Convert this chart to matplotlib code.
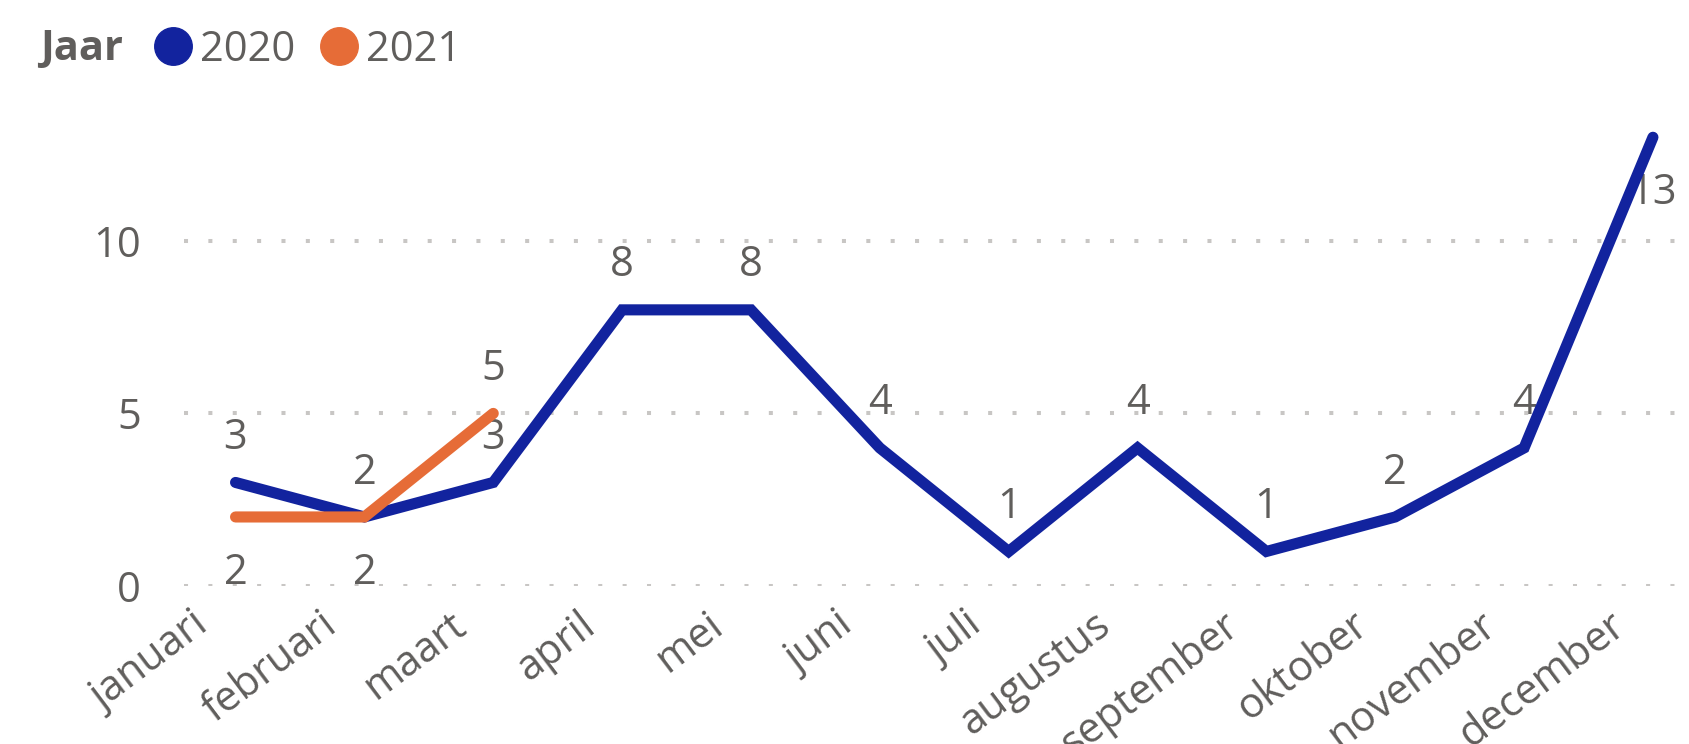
import matplotlib
matplotlib.use("Agg")
import matplotlib.pyplot as plt
from matplotlib.lines import Line2D
from matplotlib.transforms import ScaledTranslation

months = ["januari", "februari", "maart", "april", "mei", "juni", "juli",
          "augustus", "september", "oktober", "november", "december"]
values_2020 = [3, 2, 3, 8, 8, 4, 1, 4, 1, 2, 4, 13]
values_2021 = [2, 2, 5]
series_names = ["2020", "2021"]
yticks = [0, 5, 10]

# label placement (style): 'a' = above, 'b' = below
pos_2020 = ["a", "a", "a", "a", "a", "a", "a", "a", "a", "a", "a", "b"]
pos_2021 = ["b", "b", "a"]

BLUE = "#12239E"
ORANGE = "#E66C37"
GREY = "#605E5C"
FONT = "Open Sans"
FS = 30

plt.rcParams["font.family"] = [FONT, "DejaVu Sans"]

fig = plt.figure(figsize=(16.9, 7.44), dpi=100)
ax = fig.add_axes([184 / 1690, 1 - 586 / 744, (1680 - 184) / 1690, (586 - 120) / 744])

x20 = list(range(len(values_2020)))
x21 = list(range(len(values_2021)))
ax.plot(x20, values_2020, color=BLUE, lw=8, solid_capstyle="round",
        solid_joinstyle="miter", zorder=3)
ax.plot(x21, values_2021, color=ORANGE, lw=8, solid_capstyle="round",
        solid_joinstyle="miter", zorder=4)

ax.set_xlim(-0.40, 11.21)
ax.set_ylim(0, 13.5)

for s in ax.spines.values():
    s.set_visible(False)

ax.set_yticks(yticks)
ax.set_yticklabels([str(v) for v in yticks], fontsize=FS, color=GREY)
ax.tick_params(axis="y", length=0, pad=31)
ax.grid(axis="y", color="#C8C6C4", lw=2.9, linestyle=(0, (1, 5.05)), dash_capstyle="butt")
ax.grid(axis="x", visible=False)
ax.set_axisbelow(True)

ax.set_xticks(x20)
ax.set_xticklabels(months, fontsize=FS, color=GREY, rotation=37,
                   ha="right", va="top", rotation_mode="anchor")
ax.tick_params(axis="x", length=0, pad=13)
off = ScaledTranslation(-32 / 72, 0, fig.dpi_scale_trans)
for lab in ax.get_xticklabels():
    lab.set_transform(lab.get_transform() + off)

def offs(p):
    return (0, 32) if p == "a" else (0, -40)

for xs, vs, ps in ((x20, values_2020, pos_2020), (x21, values_2021, pos_2021)):
    for xi, v, p in zip(xs, vs, ps):
        ax.annotate(str(v), (xi, v), xytext=offs(p), textcoords="offset points",
                    ha="center", va="center", fontsize=FS, color=GREY,
                    annotation_clip=False, zorder=2)

# legend
fig.text(40 / 1690, 1 - 50 / 744, "Jaar", fontsize=FS, fontweight="bold",
         color=GREY, ha="left", va="center")
handles = [Line2D([], [], marker="o", ls="none", markersize=27, color=c)
           for c in (BLUE, ORANGE)]
leg = fig.legend(handles, series_names, loc="center left",
                 bbox_to_anchor=(152 / 1690, 1 - 50 / 744), ncol=2, frameon=False,
                 fontsize=FS, labelcolor=GREY, handlelength=1.0,
                 handletextpad=0.15, columnspacing=0.55, borderpad=0, borderaxespad=0)

fig.savefig("out.png", dpi=100)
